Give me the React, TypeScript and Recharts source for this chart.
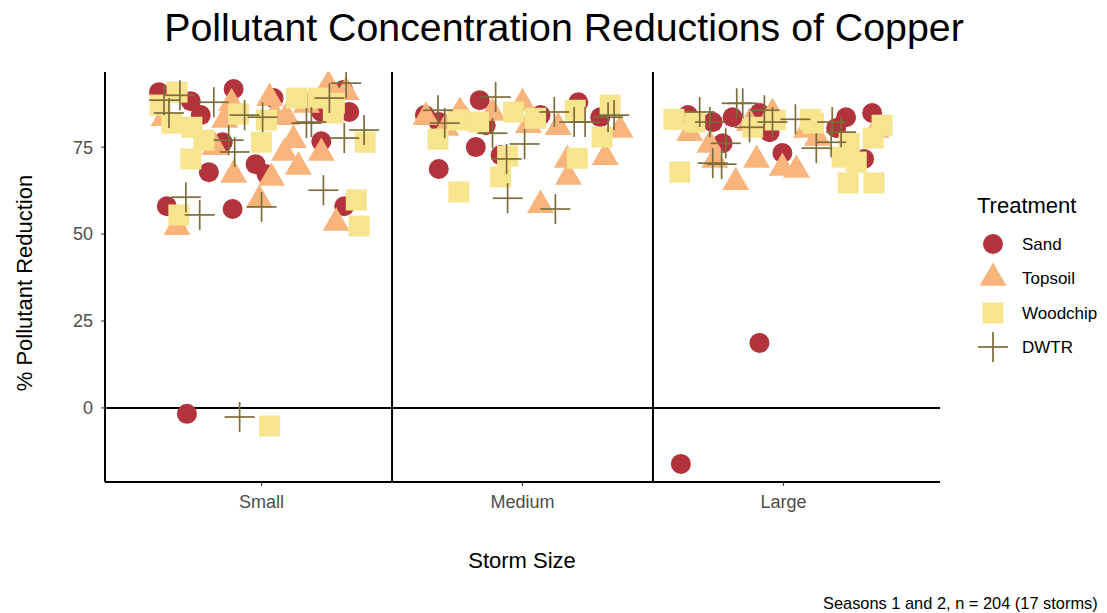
import { ScatterChart, Scatter, XAxis, YAxis, ReferenceLine, Legend } from "recharts";

const categories = ["Small", "Medium", "Large"];
const yTicks = [0, 25, 50, 75];
const treatments = ["Sand", "Topsoil", "Woodchip", "DWTR"];

// [jittered storm position, % reduction]
const sand = [
	[0.607, 90.8], [0.729, 88.2], [0.893, 91.7], [0.767, 84.2], [0.851, 76.4], [1.046, 89.1],
	[0.798, 67.8], [0.977, 70.1], [1.019, 67.2], [0.637, 58.0], [0.889, 57.2], [1.229, 76.7],
	[1.229, 85.1], [1.336, 85.1], [1.313, 91.4], [1.317, 58.0], [0.714, -1.7],
	[1.626, 84.2], [1.679, 82.2], [1.836, 88.5], [1.859, 81.3], [1.821, 75.0], [1.679, 68.7],
	[1.916, 72.7], [2.069, 84.2], [2.214, 87.9], [2.298, 83.6],
	[2.634, 84.2], [2.729, 82.2], [2.805, 83.6], [2.908, 84.8], [2.947, 79.3], [2.767, 76.1],
	[2.996, 73.3], [3.240, 83.6], [3.202, 80.5], [3.340, 84.8], [3.309, 71.6], [2.908, 18.7],
	[2.607, -16.1],
];

const topsoil = [
	[0.626, 83.3], [0.676, 52.0], [1.031, 89.1], [0.885, 87.6], [0.859, 82.8], [0.821, 75.0],
	[0.893, 67.0], [1.050, 84.2], [1.095, 83.6], [1.122, 77.0], [1.088, 73.3], [1.141, 69.3],
	[1.038, 66.1], [1.229, 73.3], [1.256, 92.8], [1.324, 90.8], [1.172, 87.1], [0.992, 59.8],
	[1.286, 53.2],
	[1.630, 83.6], [1.706, 80.5], [1.760, 85.1], [1.782, 82.8], [1.885, 84.8], [2.000, 87.6],
	[2.023, 81.3], [2.137, 80.7], [2.172, 71.3], [2.176, 66.4], [2.317, 72.1], [2.374, 79.9],
	[2.069, 58.3],
	[2.641, 79.0], [2.718, 75.6], [2.737, 71.3], [2.817, 64.9], [2.897, 71.3], [2.870, 81.9],
	[2.958, 84.8], [2.996, 69.0], [3.050, 68.4], [3.088, 79.9], [3.130, 77.6], [3.355, 79.9],
];

const woodchip = [
	[0.676, 90.8], [0.611, 87.1], [0.656, 81.9], [0.733, 80.7], [0.779, 77.0], [0.729, 71.6],
	[0.912, 84.5], [1.019, 82.8], [1.000, 76.4], [1.134, 89.1], [1.218, 89.1], [1.279, 87.6],
	[1.275, 84.8], [1.397, 76.4], [1.363, 59.8], [1.374, 52.3], [0.683, 55.5], [1.031, -5.2],
	[1.752, 82.8], [1.676, 77.3], [1.832, 82.2], [1.966, 85.1], [2.050, 83.3], [2.202, 85.6],
	[2.336, 87.1], [2.305, 77.9], [1.943, 72.4], [1.916, 66.4], [2.210, 71.8], [1.756, 62.1],
	[2.580, 83.0], [2.660, 82.2], [2.603, 67.8], [2.882, 80.7], [2.969, 82.8], [3.103, 83.0],
	[3.115, 81.9], [3.252, 76.1], [3.225, 72.1], [3.279, 70.7], [3.248, 64.7], [3.347, 64.7],
	[3.344, 77.6], [3.378, 81.3],
];

const dwtr = [
	[0.626, 88.5], [0.645, 84.8], [0.687, 89.9], [0.817, 87.9], [0.874, 77.0], [0.897, 73.6],
	[0.935, 84.2], [1.004, 83.6], [1.172, 81.9], [1.191, 82.2], [1.260, 89.1], [1.324, 93.4],
	[1.317, 77.6], [1.393, 79.9], [1.237, 62.6], [0.710, 60.6], [0.763, 55.5], [1.000, 57.8],
	[0.916, -2.6],
	[1.676, 85.6], [1.702, 81.9], [1.897, 89.4], [1.885, 79.0], [2.008, 75.9], [2.122, 85.1],
	[2.198, 82.2], [2.240, 82.2], [2.328, 83.6], [2.351, 84.2], [1.939, 71.6], [1.943, 60.3],
	[2.126, 57.2],
	[2.679, 85.1], [2.718, 82.2], [2.821, 87.6], [2.844, 87.6], [2.870, 80.7], [2.927, 85.6],
	[2.958, 82.2], [3.046, 83.0], [3.187, 82.2], [3.183, 76.4], [3.126, 74.7], [2.779, 76.1],
	[2.729, 70.4], [2.763, 70.1], [3.221, 79.3],
];

const colors = ["#B2333B", "#F9B47C", "#F7E58D", "#7D6D3B"];
const font = "'Liberation Sans', Arial, sans-serif";

const toPts = (arr: number[][]) => arr.map(([x, y]) => ({ x, y }));

const marker = (kind: number, cx: number, cy: number) => {
	if (kind === 0) return <circle cx={cx} cy={cy} r={10} fill={colors[0]} />;
	if (kind === 1) {
		const s = 27, h = 23.4;
		return (
			<polygon
				points={`${cx},${cy - (2 * h) / 3} ${cx - s / 2},${cy + h / 3} ${cx + s / 2},${cy + h / 3}`}
				fill={colors[1]}
			/>
		);
	}
	if (kind === 2) return <rect x={cx - 10.5} y={cy - 10.5} width={21} height={21} fill={colors[2]} />;
	return (
		<g stroke={colors[3]} strokeWidth={1.7}>
			<line x1={cx - 15} y1={cy} x2={cx + 15} y2={cy} />
			<line x1={cx} y1={cy - 15} x2={cx} y2={cy + 15} />
		</g>
	);
};

const shapeFor = (kind: number) => (p: any) => marker(kind, p.cx, p.cy);

function LegendBox() {
	return (
		<svg width={147} height={190} style={{ display: "block" }}>
			<text x={17} y={20} fontSize={22} fontFamily={font} dominantBaseline="central" fill="#000">
				Treatment
			</text>
			{treatments.map((t, i) => {
				const y = [59, 93, 128, 162][i];
				return (
					<g key={t}>
						{marker(i, 33, y)}
						<text x={62} y={y} fontSize={17} fontFamily={font} dominantBaseline="central" fill="#000">
							{t}
						</text>
					</g>
				);
			})}
		</svg>
	);
}

const tickStyle = { fill: "#4d4d4d", fontSize: 18, fontFamily: font };

export default function App() {
	return (
		<div style={{ position: "absolute", left: 0, top: 0, width: 1107, height: 613, overflow: "hidden", background: "#fff", fontFamily: font }}>
			<ScatterChart width={1107} height={613} margin={{ top: 72, right: 167, bottom: 91, left: 45 }}>
				<XAxis
					type="number"
					dataKey="x"
					domain={[0.4, 3.6]}
					ticks={[1, 2, 3]}
					tickFormatter={(v: number) => categories[v - 1]}
					height={40}
					allowDataOverflow
					axisLine={{ stroke: "#000", strokeWidth: 2 }}
					tickLine={{ stroke: "#333" }}
					tickSize={4}
					tickMargin={9}
					tick={tickStyle}
				/>
				<YAxis
					type="number"
					dataKey="y"
					domain={[-21.3, 96.6]}
					ticks={yTicks}
					width={60}
					allowDataOverflow
					axisLine={{ stroke: "#000", strokeWidth: 2 }}
					tickLine={{ stroke: "#333" }}
					tickSize={4}
					tickMargin={8}
					tick={tickStyle}
				/>
				<ReferenceLine x={1.5} stroke="#000" strokeWidth={2} />
				<ReferenceLine x={2.5} stroke="#000" strokeWidth={2} />
				<ReferenceLine y={0} stroke="#000" strokeWidth={2} />
				<Scatter name="Sand" data={toPts(sand)} shape={shapeFor(0)} isAnimationActive={false} />
				<Scatter name="Topsoil" data={toPts(topsoil)} shape={shapeFor(1)} isAnimationActive={false} />
				<Scatter name="Woodchip" data={toPts(woodchip)} shape={shapeFor(2)} isAnimationActive={false} />
				<Scatter name="DWTR" data={toPts(dwtr)} shape={shapeFor(3)} isAnimationActive={false} />
				<Legend
					layout="vertical"
					align="center"
					verticalAlign="middle"
					content={() => <LegendBox />}
					wrapperStyle={{ left: 960, top: 185, width: 147, height: 190 }}
				/>
			</ScatterChart>
			<div style={{ position: "absolute", left: 564, top: 28, transform: "translate(-50%, -50%)", fontSize: 39.3, whiteSpace: "nowrap", lineHeight: 1 }}>
				Pollutant Concentration Reductions of Copper
			</div>
			<div style={{ position: "absolute", left: 25, top: 283, transform: "translate(-50%, -50%) rotate(-90deg)", fontSize: 22, whiteSpace: "nowrap", lineHeight: 1 }}>
				% Pollutant Reduction
			</div>
			<div style={{ position: "absolute", left: 522, top: 561, transform: "translate(-50%, -50%)", fontSize: 22, whiteSpace: "nowrap", lineHeight: 1 }}>
				Storm Size
			</div>
			<div style={{ position: "absolute", left: 823, top: 603, transform: "translateY(-50%)", fontSize: 16.4, whiteSpace: "nowrap", lineHeight: 1 }}>
				Seasons 1 and 2, n = 204 (17 storms)
			</div>
		</div>
	);
}
